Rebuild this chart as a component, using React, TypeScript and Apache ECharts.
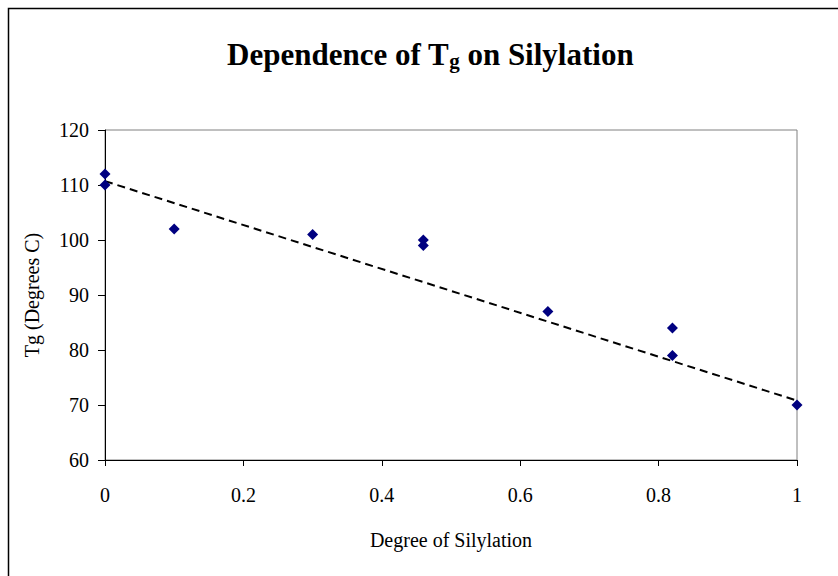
import React, { useEffect, useRef } from "react";
import * as echarts from "echarts";

const silylation: number[] = [0, 0, 0.1, 0.3, 0.46, 0.46, 0.64, 0.82, 0.82, 1];
const tg: number[] = [112, 110, 102, 101, 100, 99, 87, 84, 79, 70];
const trendX: number[] = [0, 1];
const trendY: number[] = [110.7, 70.8];
const xTicks: number[] = [0, 0.2, 0.4, 0.6, 0.8, 1];
const yTicks: number[] = [60, 70, 80, 90, 100, 110, 120];

const FONT = "'Liberation Serif', 'Times New Roman', serif";

export default function App() {
  const ref = useRef<HTMLDivElement>(null);
  useEffect(() => {
    if (!ref.current) return;
    const chart = echarts.init(ref.current, undefined, { renderer: "svg" });
    chart.setOption({
      animation: false,
      backgroundColor: "#ffffff",
      textStyle: { fontFamily: FONT },
      title: {
        text: "{a|Dependence of T}{s|g}{a| on Silylation}",
        left: 222,
        top: 30,
        textStyle: {
          rich: {
            a: { fontFamily: FONT, fontSize: 31, fontWeight: "bold", color: "#000", lineHeight: 38 },
            s: { fontFamily: FONT, fontSize: 21, fontWeight: "bold", color: "#000", lineHeight: 38, padding: [13, 0, 0, 0] },
          },
        },
      },
      graphic: [
        {
          type: "rect",
          shape: { x: 8.5, y: 8.5, width: 1000, height: 1000 },
          style: { fill: "none", stroke: "#000", lineWidth: 1.5 },
          silent: true,
        },
      ],
      grid: {
        left: 105,
        top: 130,
        right: 41,
        bottom: 116,
        show: true,
        borderColor: "#808080",
        borderWidth: 1,
        backgroundColor: "transparent",
      },
      xAxis: {
        type: "value",
        min: xTicks[0],
        max: xTicks[xTicks.length - 1],
        interval: 0.2,
        name: "Degree of Silylation",
        nameLocation: "middle",
        nameGap: 70,
        nameTextStyle: { fontFamily: FONT, fontSize: 20, color: "#000" },
        axisLine: { show: true, onZero: false, lineStyle: { color: "#000", width: 1 } },
        axisTick: { show: true, length: 6, lineStyle: { color: "#000" } },
        axisLabel: { fontFamily: FONT, fontSize: 20, color: "#000", margin: 25, formatter: (v: number) => String(Math.round(v * 10) / 10) },
        splitLine: { show: false },
      },
      yAxis: {
        type: "value",
        min: yTicks[0],
        max: yTicks[yTicks.length - 1],
        interval: 10,
        name: "Tg (Degrees C)",
        nameLocation: "middle",
        nameGap: 63,
        nameTextStyle: { fontFamily: FONT, fontSize: 20, color: "#000" },
        axisLine: { show: true, onZero: false, lineStyle: { color: "#000", width: 1 } },
        axisTick: { show: true, length: 7, lineStyle: { color: "#000" } },
        axisLabel: { fontFamily: FONT, fontSize: 20, color: "#000", margin: 16 },
        splitLine: { show: false },
      },
      series: [
        {
          type: "line",
          data: trendX.map((x, i) => [x, trendY[i]]),
          showSymbol: false,
          symbol: "none",
          lineStyle: { color: "#000", width: 2, type: [8, 5] },
          z: 2,
          silent: true,
        },
        {
          type: "scatter",
          data: silylation.map((x, i) => [x, tg[i]]),
          symbol: "diamond",
          symbolSize: 11,
          itemStyle: { color: "#000080", opacity: 1 },
          z: 3,
        },
      ],
    });
    return () => chart.dispose();
  }, []);
  return (
    <div
      ref={ref}
      style={{ position: "fixed", left: 0, top: 0, width: 838, height: 576, background: "#fff" }}
    />
  );
}
